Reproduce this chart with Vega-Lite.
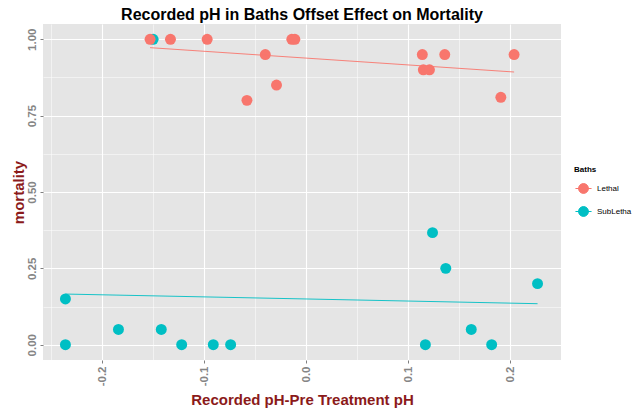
{
  "$schema": "https://vega.github.io/schema/vega-lite/v6.json",
  "autosize": "none",
  "width": 518,
  "height": 336,
  "padding": {"left": 43, "top": 24, "right": 73, "bottom": 51},
  "background": "white",
  "title": {
    "text": "Recorded pH in Baths Offset Effect on Mortality",
    "font": "Liberation Sans",
    "fontSize": 16,
    "fontWeight": "bold",
    "color": "#000000",
    "anchor": "middle",
    "offset": 1
  },
  "config": {
    "view": {"fill": "#E5E5E5", "stroke": null},
    "axis": {
      "domain": false,
      "gridColor": "#FFFFFF",
      "tickColor": "#7F7F7F",
      "tickSize": 3,
      "labelFont": "Liberation Sans",
      "labelFontSize": 11.5,
      "labelFontWeight": "bold",
      "labelColor": "#858585",
      "titleFont": "Liberation Sans",
      "titleFontSize": 15,
      "titleFontWeight": "bold",
      "titleColor": "#8B1A1A"
    }
  },
  "data": {
    "values": [
      {"ph": -0.150, "mortality": 1.0, "Baths": "SubLetha"},
      {"ph": -0.236, "mortality": 0.15, "Baths": "SubLetha"},
      {"ph": -0.236, "mortality": 0.0, "Baths": "SubLetha"},
      {"ph": -0.184, "mortality": 0.05, "Baths": "SubLetha"},
      {"ph": -0.142, "mortality": 0.05, "Baths": "SubLetha"},
      {"ph": -0.122, "mortality": 0.0, "Baths": "SubLetha"},
      {"ph": -0.091, "mortality": 0.0, "Baths": "SubLetha"},
      {"ph": -0.074, "mortality": 0.0, "Baths": "SubLetha"},
      {"ph": 0.117, "mortality": 0.0, "Baths": "SubLetha"},
      {"ph": 0.124, "mortality": 0.367, "Baths": "SubLetha"},
      {"ph": 0.137, "mortality": 0.25, "Baths": "SubLetha"},
      {"ph": 0.162, "mortality": 0.05, "Baths": "SubLetha"},
      {"ph": 0.182, "mortality": 0.0, "Baths": "SubLetha"},
      {"ph": 0.227, "mortality": 0.2, "Baths": "SubLetha"},
      {"ph": -0.153, "mortality": 1.0, "Baths": "Lethal"},
      {"ph": -0.133, "mortality": 1.0, "Baths": "Lethal"},
      {"ph": -0.097, "mortality": 1.0, "Baths": "Lethal"},
      {"ph": -0.040, "mortality": 0.95, "Baths": "Lethal"},
      {"ph": -0.058, "mortality": 0.80, "Baths": "Lethal"},
      {"ph": -0.029, "mortality": 0.85, "Baths": "Lethal"},
      {"ph": -0.014, "mortality": 1.0, "Baths": "Lethal"},
      {"ph": -0.011, "mortality": 1.0, "Baths": "Lethal"},
      {"ph": 0.114, "mortality": 0.95, "Baths": "Lethal"},
      {"ph": 0.136, "mortality": 0.95, "Baths": "Lethal"},
      {"ph": 0.115, "mortality": 0.90, "Baths": "Lethal"},
      {"ph": 0.121, "mortality": 0.90, "Baths": "Lethal"},
      {"ph": 0.204, "mortality": 0.95, "Baths": "Lethal"},
      {"ph": 0.191, "mortality": 0.81, "Baths": "Lethal"}
    ]
  },
  "encoding": {
    "x": {
      "field": "ph",
      "type": "quantitative",
      "scale": {"domain": [-0.258, 0.250], "nice": false, "zero": false},
      "axis": {
        "title": "Recorded pH-Pre Treatment pH",
        "values": [-0.25, -0.2, -0.15, -0.1, -0.05, 0, 0.05, 0.1, 0.15, 0.2],
        "labelExpr": "abs(round(datum.value*100)) % 10 != 0 ? '' : replace(format(datum.value, '.1f'), '\u2212', '-')",
        "labelAngle": -90,
        "labelAlign": "right",
        "labelBaseline": "middle",
        "labelPadding": 3,
        "titlePadding": 7,
        "gridWidth": {"condition": {"test": "abs(round(datum.value*100)) % 10 != 0", "value": 0.5}, "value": 1.1},
        "tickOpacity": {"condition": {"test": "abs(round(datum.value*100)) % 10 != 0", "value": 0}, "value": 1}
      }
    },
    "y": {
      "field": "mortality",
      "type": "quantitative",
      "scale": {"domain": [-0.05, 1.05], "nice": false, "zero": false},
      "axis": {
        "title": "mortality",
        "values": [0, 0.125, 0.25, 0.375, 0.5, 0.625, 0.75, 0.875, 1],
        "labelExpr": "round(datum.value*1000) % 250 != 0 ? '' : format(datum.value, '.2f')",
        "labelAngle": -90,
        "labelAlign": "center",
        "labelBaseline": "bottom",
        "labelPadding": 3,
        "titlePadding": 0,
        "gridWidth": {"condition": {"test": "round(datum.value*1000) % 250 != 0", "value": 0.5}, "value": 1.1},
        "tickOpacity": {"condition": {"test": "round(datum.value*1000) % 250 != 0", "value": 0}, "value": 1}
      }
    },
    "color": {
      "field": "Baths",
      "type": "nominal",
      "scale": {"domain": ["Lethal", "SubLetha"], "range": ["#F8766D", "#00BFC4"]},
      "legend": {
        "title": "Baths",
        "orient": "none",
        "legendX": 531,
        "legendY": 142,
        "titleFont": "Liberation Sans",
        "titleFontSize": 8,
        "titleFontWeight": "bold",
        "titleColor": "#000000",
        "titlePadding": 5,
        "labelFont": "Liberation Sans",
        "labelFontSize": 8,
        "labelColor": "#000000",
        "symbolType": "M -0.9 0 L 0.9 0 M 0.55 0 A 0.55 0.55 0 1 1 -0.55 0 A 0.55 0.55 0 1 1 0.55 0 Z",
        "symbolSize": 320,
        "symbolStrokeWidth": 1,
        "symbolOpacity": 1,
        "rowPadding": 6,
        "labelOffset": 4
      }
    }
  },
  "layer": [
    {
      "mark": {"type": "point", "filled": true, "opacity": 1, "size": 120}
    },
    {
      "transform": [
        {"regression": "mortality", "on": "ph", "groupby": ["Baths"], "method": "linear"}
      ],
      "mark": {"type": "line", "strokeWidth": 1, "opacity": 0.9}
    }
  ]
}
